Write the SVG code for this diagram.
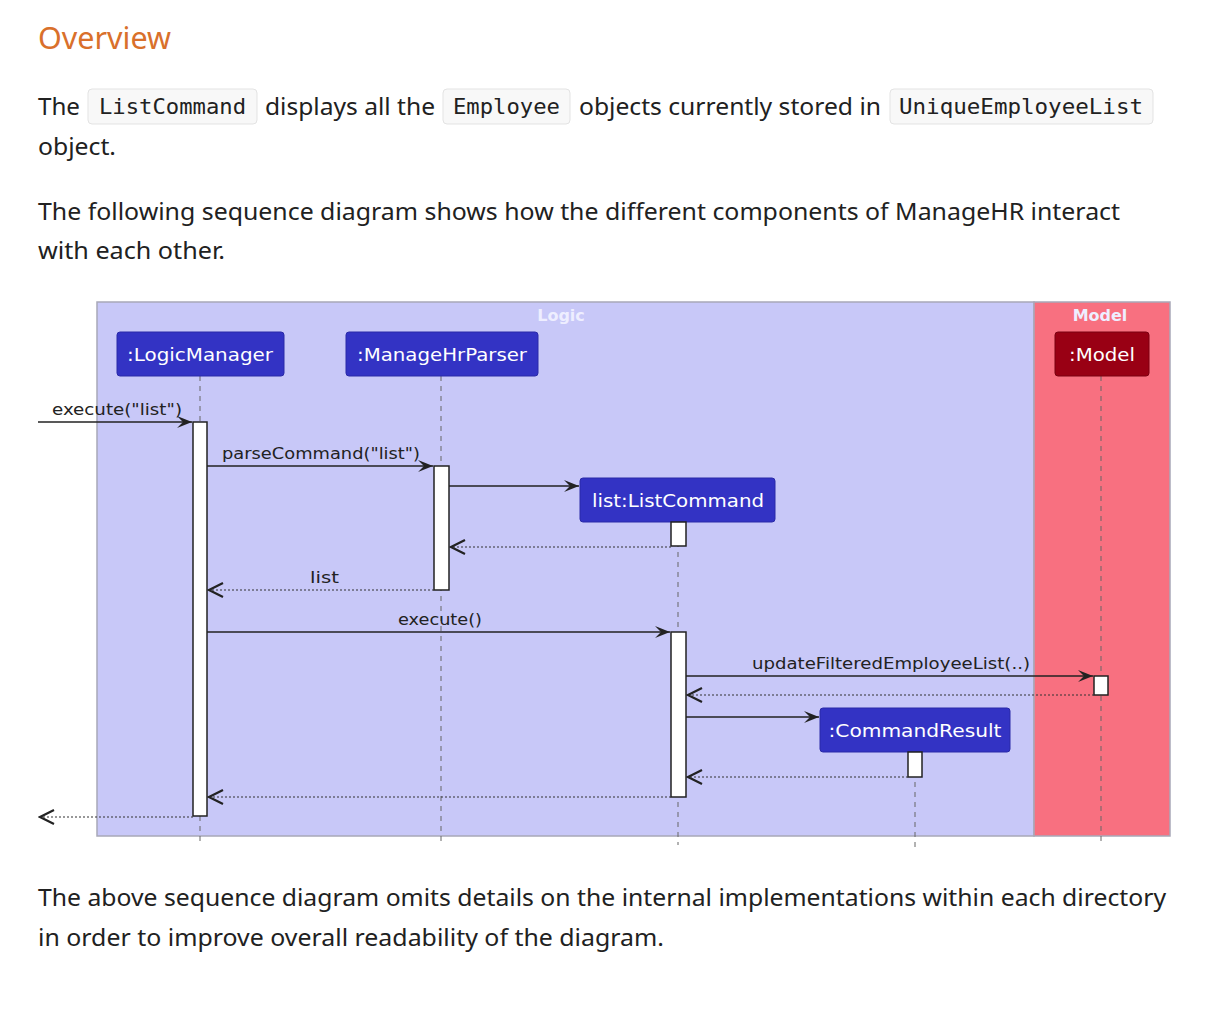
<svg xmlns="http://www.w3.org/2000/svg" width="1216" height="1034" viewBox="0 0 1216 1034">
<defs>
<style>
.body{font-family:"Noto Sans","Open Sans",sans-serif;font-size:23px;fill:#212121}
.code{font-family:"DejaVu Sans Mono","Liberation Mono",monospace;font-size:21px;fill:#212121}
.cbox{fill:#f8f8f8;stroke:#e3e3e3;stroke-width:1}
.part{fill:#3333c4;stroke:#2a2aa8;stroke-width:1}
.ptxt{font-family:"DejaVu Sans","Liberation Sans",sans-serif;font-size:18px;fill:#ffffff;text-anchor:middle}
.msg{font-family:"DejaVu Sans","Liberation Sans",sans-serif;font-size:15px;fill:#222222}
.life{stroke:#666666;stroke-width:1;stroke-dasharray:5,5}
.act{fill:#ffffff;stroke:#222222;stroke-width:1.5}
.call{stroke:#222222;stroke-width:1.5;fill:none;marker-end:url(#arr)}
.ret{stroke:#333333;stroke-width:1.2;stroke-dasharray:2,2;fill:none;marker-end:url(#open)}
.grp{font-family:"DejaVu Sans","Liberation Sans",sans-serif;font-size:16px;font-weight:bold;fill:#eeeeff;text-anchor:middle}
</style>
<marker id="arr" viewBox="-16 -8 18 16" refX="0" refY="0" markerWidth="18" markerHeight="16" markerUnits="userSpaceOnUse" orient="auto">
<path d="M0,0 L-15,-6 L-9,0 L-15,6 Z" fill="#222222"/>
</marker>
<marker id="open" viewBox="-16 -9 18 18" refX="0" refY="0" markerWidth="18" markerHeight="18" markerUnits="userSpaceOnUse" orient="auto">
<path d="M-14,-7 L0,0 L-14,7" fill="none" stroke="#222222" stroke-width="2.2"/>
</marker>
</defs>
<rect width="1216" height="1034" fill="#ffffff"/>

<g id="text-top">
<text x="38" y="49" style="font-family:'Noto Sans','Open Sans',sans-serif;font-size:30px;fill:#d9702b" textLength="133" lengthAdjust="spacingAndGlyphs">Overview</text>
<text class="body" x="38" y="115" textLength="42" lengthAdjust="spacingAndGlyphs">The</text>
<rect class="cbox" x="88" y="89" width="169" height="35" rx="4"/>
<text class="code" x="99" y="114" textLength="147" lengthAdjust="spacingAndGlyphs">ListCommand</text>
<text class="body" x="265" y="115" textLength="170" lengthAdjust="spacingAndGlyphs">displays all the</text>
<rect class="cbox" x="443" y="89" width="127" height="35" rx="4"/>
<text class="code" x="453" y="114" textLength="107" lengthAdjust="spacingAndGlyphs">Employee</text>
<text class="body" x="579" y="115" textLength="302" lengthAdjust="spacingAndGlyphs">objects currently stored in</text>
<rect class="cbox" x="890" y="89" width="263" height="35" rx="4"/>
<text class="code" x="899" y="114" textLength="244" lengthAdjust="spacingAndGlyphs">UniqueEmployeeList</text>
<text class="body" x="38" y="155" textLength="78" lengthAdjust="spacingAndGlyphs">object.</text>
<text class="body" x="38" y="220" textLength="1082" lengthAdjust="spacingAndGlyphs">The following sequence diagram shows how the different components of ManageHR interact</text>
<text class="body" x="38" y="259" textLength="187" lengthAdjust="spacingAndGlyphs">with each other.</text>
</g>

<g id="group-logic">
<rect x="97" y="302" width="937" height="534" fill="#c8c8f8" stroke="#a8a8b8" stroke-width="1.5"/>
<text class="grp" x="561" y="321">Logic</text>
</g>
<g id="group-model">
<rect x="1034" y="302" width="136" height="534" fill="#f87080" stroke="#a8a8b8" stroke-width="1.5"/>
<text class="grp" x="1100" y="321">Model</text>
</g>

<g id="lifelines">
<line class="life" x1="200" y1="376" x2="200" y2="845"/>
<line class="life" x1="441" y1="376" x2="441" y2="845"/>
<line class="life" x1="678" y1="522" x2="678" y2="845"/>
<line class="life" x1="915" y1="752" x2="915" y2="848"/>
<line class="life" x1="1101" y1="376" x2="1101" y2="845"/>
</g>

<g id="p-logicmanager">
<rect class="part" x="117" y="332" width="167" height="44" rx="3"/>
<text class="ptxt" x="200" y="361" textLength="146" lengthAdjust="spacingAndGlyphs">:LogicManager</text>
</g>
<g id="p-managehrparser">
<rect class="part" x="346" y="332" width="192" height="44" rx="3"/>
<text class="ptxt" x="442" y="361" textLength="170" lengthAdjust="spacingAndGlyphs">:ManageHrParser</text>
</g>
<g id="p-model">
<rect x="1055" y="332" width="94" height="44" rx="3" fill="#990014" stroke="#7a0010"/>
<text class="ptxt" x="1102" y="361" textLength="66" lengthAdjust="spacingAndGlyphs">:Model</text>
</g>
<g id="p-listcommand">
<rect class="part" x="580" y="478" width="195" height="44" rx="3"/>
<text class="ptxt" x="678" y="507" textLength="172" lengthAdjust="spacingAndGlyphs">list:ListCommand</text>
</g>
<g id="p-commandresult">
<rect class="part" x="820" y="708" width="190" height="44" rx="3"/>
<text class="ptxt" x="915" y="737" textLength="173" lengthAdjust="spacingAndGlyphs">:CommandResult</text>
</g>

<g id="activations">
<rect class="act" x="193" y="422" width="14" height="394"/>
<rect class="act" x="434" y="466" width="15" height="124"/>
<rect class="act" x="671" y="522" width="15" height="24"/>
<rect class="act" x="671" y="632" width="15" height="165"/>
<rect class="act" x="1094" y="676" width="14" height="19"/>
<rect class="act" x="908" y="752" width="14" height="25"/>
</g>

<g id="connectors">
<line class="call" x1="38" y1="422" x2="192" y2="422"/>
<text class="msg" x="52" y="415" textLength="130" lengthAdjust="spacingAndGlyphs">execute("list")</text>
<line class="call" x1="207" y1="466" x2="433" y2="466"/>
<text class="msg" x="222" y="459" textLength="198" lengthAdjust="spacingAndGlyphs">parseCommand("list")</text>
<line class="call" x1="449" y1="486" x2="579" y2="486"/>
<line class="ret" x1="671" y1="547" x2="451" y2="547"/>
<line class="ret" x1="434" y1="590" x2="209" y2="590"/>
<text class="msg" x="310" y="583" textLength="29" lengthAdjust="spacingAndGlyphs">list</text>
<line class="call" x1="207" y1="632" x2="670" y2="632"/>
<text class="msg" x="398" y="625" textLength="84" lengthAdjust="spacingAndGlyphs">execute()</text>
<line class="call" x1="686" y1="676" x2="1093" y2="676"/>
<text class="msg" x="752" y="669" textLength="278" lengthAdjust="spacingAndGlyphs">updateFilteredEmployeeList(..)</text>
<line class="ret" x1="1094" y1="695" x2="688" y2="695"/>
<line class="call" x1="686" y1="717" x2="819" y2="717"/>
<line class="ret" x1="908" y1="777" x2="688" y2="777"/>
<line class="ret" x1="671" y1="797" x2="209" y2="797"/>
<line class="ret" x1="193" y1="817" x2="40" y2="817"/>
</g>

<g id="text-bottom">
<text class="body" x="38" y="906" textLength="1128" lengthAdjust="spacingAndGlyphs">The above sequence diagram omits details on the internal implementations within each directory</text>
<text class="body" x="38" y="946" textLength="626" lengthAdjust="spacingAndGlyphs">in order to improve overall readability of the diagram.</text>
</g>
</svg>
